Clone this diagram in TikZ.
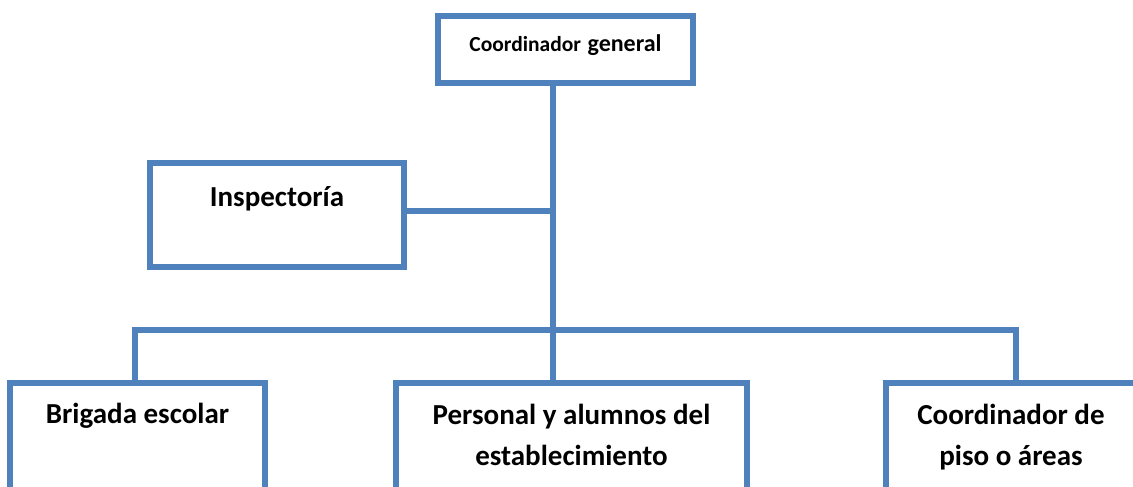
\documentclass[tikz,border=0pt]{standalone}
\usepackage{fontspec}
\setmainfont{Carlito}
\usetikzlibrary{calc}
\definecolor{orgblue}{RGB}{79,129,189}

\begin{document}
\begin{tikzpicture}[x=1pt,y=-1pt,
    orgbox/.style={draw=orgblue,line width=6pt,inner sep=0pt,anchor=north,
        align=center,font=\bfseries\fontsize{29}{41}\selectfont},
    orgline/.style={draw=orgblue,line width=6pt}]
    \useasboundingbox (0,0) rectangle (1133,487);
    \clip (0,0) rectangle (1133,487);
    % boxes
    \node[orgbox,minimum width=255pt,text height=36pt,text depth=31pt] (coord) at (565.5,13)
        {{\fontsize{21.5}{26}\selectfont Coordinador} {\fontsize{24}{29}\selectfont general}};
    \node[orgbox,minimum width=254pt,text height=43pt,text depth=61pt] (insp) at (277,160) {Inspectoría};
    \node[orgbox,minimum width=255pt,text height=40pt,text depth=90pt] (brig) at (137.5,380) {Brigada escolar};
    \node[orgbox,minimum width=351pt,text height=82pt,text depth=48pt] (pers) at (571.5,380)
        {Personal y alumnos del\\establecimiento};
    \node[orgbox,minimum width=250pt,text height=82pt,text depth=48pt] (piso) at (1011,380)
        {Coordinador de\\piso o áreas};
    % connectors
    \coordinate (spine) at (553,330);
    \coordinate (barL) at (135,330);
    \coordinate (barR) at (1016,330);
    \draw[orgline] (coord.south -| spine) -- (spine |- pers.north);
    \draw[orgline] ([yshift=4pt]insp.east) -- ([yshift=4pt]insp.east -| spine);
    \draw[orgline] (barL |- brig.north) -- (barL) -- (barR) -- (barR |- piso.north);
\end{tikzpicture}
\end{document}
